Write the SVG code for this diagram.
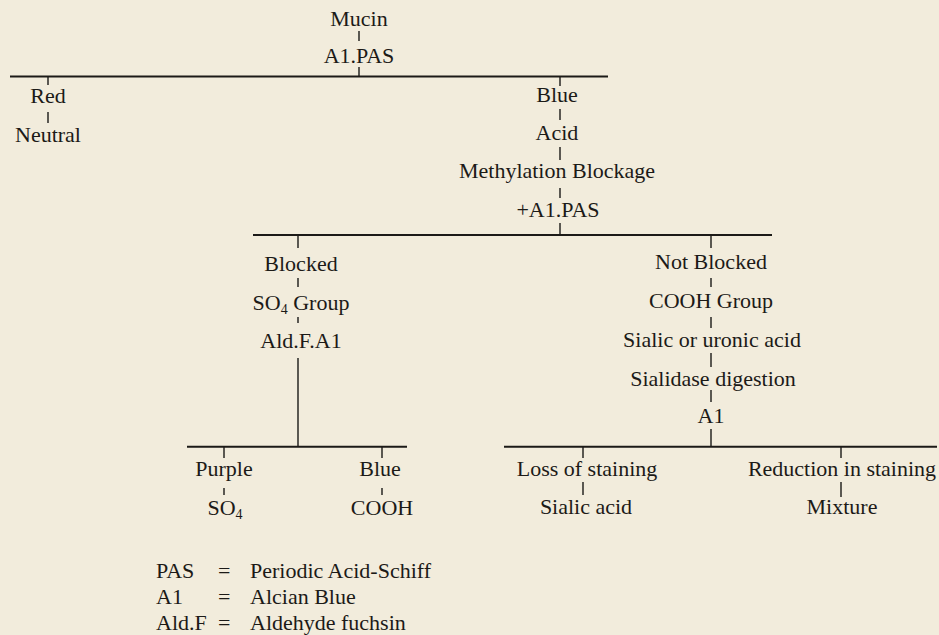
<svg xmlns="http://www.w3.org/2000/svg" width="939" height="635" viewBox="0 0 939 635">
<style>
text{font-family:"Liberation Serif","Times New Roman",serif;font-size:22px;fill:#1c1a17;text-anchor:middle}
.l{text-anchor:start}
.h{stroke:#1c1a17;stroke-width:2;fill:none}
.t{stroke:#1c1a17;stroke-width:1.4;fill:none}
.sub{font-size:14px}
</style>
<rect width="939" height="635" fill="#f2ecdc"/>
<g id="connectors">
<path class="h" d="M10 76.5H608M253 235H772M187 446.7H407M504 446.7H937"/>
<path class="t" d="M359 31V41M359 67V76M48 77V85M48 112V123M560 77V86M560 109V120M560 147V160M560 188V198M560 223V234M298 236V248M298 278V287M298 317V323M298 358V446M224 447V458M224 488V495M382 447V458M382 488V495M711 236V248M711 278V287M711 317V328M711 353V367M711 390V402M711 429V446M583 447V458M583 482V495M841 447V458M841 482V497"/>
</g>
<g id="mucin"><text x="359" y="26">Mucin</text></g>
<g id="a1pas"><text x="359" y="63">A1.PAS</text></g>
<g id="red"><text x="48" y="103">Red</text></g>
<g id="neutral"><text x="48" y="142">Neutral</text></g>
<g id="blue1"><text x="557" y="102">Blue</text></g>
<g id="acid"><text x="557" y="140">Acid</text></g>
<g id="methylation"><text x="557" y="178">Methylation Blockage</text></g>
<g id="plusa1pas"><text x="558" y="217">+A1.PAS</text></g>
<g id="blocked"><text x="301" y="270.5">Blocked</text></g>
<g id="so4group"><text x="301" y="310">SO<tspan class="sub" dy="4">4</tspan><tspan dy="-4"> Group</tspan></text></g>
<g id="aldfa1"><text x="301" y="347.5">Ald.F.A1</text></g>
<g id="purple"><text x="224" y="476">Purple</text></g>
<g id="so4"><text x="225" y="515">SO<tspan class="sub" dy="4">4</tspan></text></g>
<g id="blue2"><text x="380" y="476">Blue</text></g>
<g id="cooh"><text x="382" y="515">COOH</text></g>
<g id="notblocked"><text x="711" y="269">Not Blocked</text></g>
<g id="coohgroup"><text x="711" y="308">COOH Group</text></g>
<g id="sialicuronic"><text x="712" y="347">Sialic or uronic acid</text></g>
<g id="sialidase"><text x="713" y="386">Sialidase digestion</text></g>
<g id="a1"><text x="711" y="423">A1</text></g>
<g id="loss"><text x="587" y="476">Loss of staining</text></g>
<g id="sialicacid"><text x="586" y="514">Sialic acid</text></g>
<g id="reduction"><text x="842" y="476">Reduction in staining</text></g>
<g id="mixture"><text x="842" y="514">Mixture</text></g>
<g id="legend">
<text class="l" x="156" y="578">PAS</text><text class="l" x="218" y="578">=</text><text class="l" x="250" y="578">Periodic Acid-Schiff</text>
<text class="l" x="156" y="604">A1</text><text class="l" x="218" y="604">=</text><text class="l" x="250" y="604">Alcian Blue</text>
<text class="l" x="156" y="630">Ald.F</text><text class="l" x="218" y="630">=</text><text class="l" x="250" y="630">Aldehyde fuchsin</text>
</g>
</svg>
